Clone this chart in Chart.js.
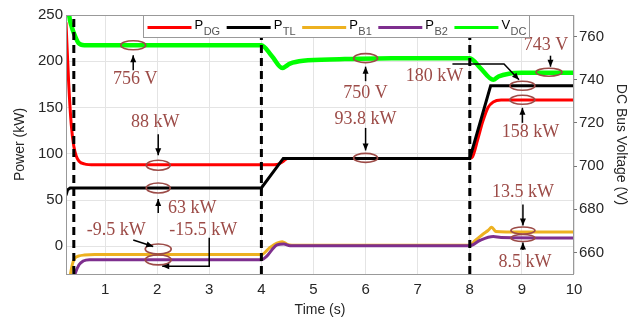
<!DOCTYPE html>
<html>
<head>
<meta charset="utf-8">
<script src="https://cdn.jsdelivr.net/npm/chart.js@4.4.0/dist/chart.umd.min.js"></script>
<style>
  html, body { margin: 0; padding: 0; background: #fff; }
</style>
</head>
<body>
<canvas id="powerChart" width="641" height="320"></canvas>
<script>
// axis ticks
const timeTicks = [1, 2, 3, 4, 5, 6, 7, 8, 9, 10];
const powerTicks = [0, 50, 100, 150, 200, 250];
const voltTicks = [660, 680, 700, 720, 740, 760];
const eventTimes = [0.4, 4, 8]; // load steps (dashed lines)

// P_DG (kW)
const tDG = [0.25, 0.3, 0.35, 0.4, 0.45, 0.5, 0.6, 0.8, 4.0, 4.3, 4.4, 4.5, 8.0, 8.05, 8.15, 8.25, 8.35, 8.45, 8.6, 10];
const pDG = [242, 178, 132, 108, 97, 92, 89, 88, 88, 88.5, 91, 95, 95, 96.5, 115, 135, 150, 156, 158, 158];
// P_TL (kW)
const tTL = [0.25, 0.28, 0.33, 4.0, 4.42, 8.0, 8.4, 10];
const pTL = [55, 61, 63, 63, 95, 95, 173.5, 173.5];
// P_B1 (kW)
const tB1 = [0.25, 0.33, 0.37, 0.42, 0.5, 0.6, 0.8, 4.0, 4.15, 4.3, 4.4, 4.5, 4.7, 8.0, 8.1, 8.25, 8.35, 8.42, 8.5, 8.7, 10];
const pB1 = [-60, -32, -20, -13, -10.5, -9.5, -9, -9, -2, 3.5, 5, 2, 1, 1, 6, 13, 17, 20.5, 16, 15.5, 15.5];
// P_B2 (kW)
const tB2 = [0.25, 0.38, 0.43, 0.5, 0.58, 0.7, 4.0, 4.1, 4.2, 4.3, 4.43, 4.55, 8.0, 8.2, 8.45, 8.6, 10];
const pB2 = [-70, -40, -29, -20, -16, -14.5, -14.5, -11, -4, 1.5, 2.5, 0.5, 0.5, 6.5, 10.5, 9.5, 9];
// V_DC (V)
const tDC = [0.25, 0.31, 0.36, 0.42, 0.49, 0.6, 4.0, 4.2, 4.4, 4.55, 4.8, 5.5, 6.5, 8.0, 8.2, 8.45, 8.55, 8.75, 9.0, 10];
const vDC = [790, 770, 764.5, 760.5, 757, 756, 756, 751, 745.5, 747.5, 748.8, 749.5, 750, 750, 745.5, 740, 741.5, 742.8, 743.2, 743.3];

const legendMain = ['P', 'P', 'P', 'P', 'V'];
const legendSub = ['DG', 'TL', 'B1', 'B2', 'DC'];
const colors = ['#ff0000', '#000000', '#edb120', '#7e2f8e', '#00ff00'];

// callouts: anchor (t, value on axis), ellipse size, label and arrow offsets in px
const notes = [
  { t: 1.54, v: 756, axis: 'y1', rx: 12.5, ry: 4.5, text: '756 V', tx: 2, ty: 34, arrow: [[0, 25], [0, 10]] },
  { t: 2.02, v: 87.5, axis: 'y', rx: 12, ry: 5, text: '88 kW', tx: -3, ty: -43, arrow: [[0, -31], [0, -10]] },
  { t: 2.02, v: 63, axis: 'y', rx: 12, ry: 5, text: '63 kW', tx: 34, ty: 20, arrow: [[0, 25], [0, 11]] },
  { t: 2.02, v: -3, axis: 'y', rx: 13, ry: 5, text: '-9.5 kW', tx: -42, ty: -19, arrow: [[-25, -9], [-5, -2.5]] },
  { t: 2.02, v: -14.7, axis: 'y', rx: 13, ry: 5, text: '-15.5 kW', tx: 45, ty: -30, arrow: [[51, -22], [51, 6.4], [4, 6.4]] },
  { t: 6.0, v: 750, axis: 'y1', rx: 12, ry: 4.5, text: '750 V', tx: 0, ty: 35, arrow: [[0, 23], [0, 8.5]] },
  { t: 6.0, v: 95.5, axis: 'y', rx: 12, ry: 4.5, text: '93.8 kW', tx: 0, ty: -39, arrow: [[0, -30], [0, -7.5]] },
  { t: 9.52, v: 743.5, axis: 'y1', rx: 13, ry: 4, text: '743 V', tx: -3, ty: -27, arrow: [[1.5, -16.5], [1.5, -5.5]] },
  { t: 9.01, v: 173.5, axis: 'y', rx: 12.5, ry: 4.5, text: '180 kW', tx: -88, ty: -9, arrow: [[-70, -21.7], [-18.4, -21.7], [-3.4, -6]] },
  { t: 9.01, v: 158.3, axis: 'y', rx: 12.5, ry: 4.5, text: '158 kW', tx: 8, ty: 32, arrow: [[0, 23], [0, 8]] },
  { t: 9.02, v: 17, axis: 'y', rx: 12, ry: 3.5, text: '13.5 kW', tx: 0, ty: -38, arrow: [[0, -26], [0, -5]] },
  { t: 9.02, v: 9, axis: 'y', rx: 12, ry: 3.5, text: '8.5 kW', tx: 2, ty: 24, arrow: [[0, 12], [0, 4.5]] }
];
const noteColor = '#9c4b47';

const pts = (ts, vs) => ts.map((t, i) => ({ x: t, y: vs[i] }));

Chart.defaults.font.family = '"Liberation Sans", Arial, sans-serif';
Chart.defaults.color = '#262626';

const datasets = [
  { label: 'P_DG', data: pts(tDG, pDG), yAxisID: 'y', borderColor: colors[0], borderWidth: 3, cubicInterpolationMode: 'monotone', order: 3 },
  { label: 'P_TL', data: pts(tTL, pTL), yAxisID: 'y', borderColor: colors[1], borderWidth: 3, tension: 0, order: 2 },
  { label: 'P_B1', data: pts(tB1, pB1), yAxisID: 'y', borderColor: colors[2], borderWidth: 3, cubicInterpolationMode: 'monotone', order: 5 },
  { label: 'P_B2', data: pts(tB2, pB2), yAxisID: 'y', borderColor: colors[3], borderWidth: 3, cubicInterpolationMode: 'monotone', order: 4 },
  { label: 'V_DC', data: pts(tDC, vDC), yAxisID: 'y1', borderColor: colors[4], borderWidth: 4.5, cubicInterpolationMode: 'monotone', order: 6 }
];
eventTimes.forEach(t => {
  datasets.push({ label: 'step', data: [{ x: t, y: -30 }, { x: t, y: 250 }], yAxisID: 'y',
    borderColor: '#000', borderWidth: 3, borderDash: [8, 5], order: 1 });
});

const calloutPlugin = {
  id: 'callouts',
  afterDatasetsDraw(chart) {
    const ctx = chart.ctx;
    const xs = chart.scales.x;
    ctx.save();
    notes.forEach(n => {
      const cx = xs.getPixelForValue(n.t);
      const cy = chart.scales[n.axis].getPixelForValue(n.v);
      ctx.strokeStyle = noteColor;
      ctx.lineWidth = 1.6;
      ctx.beginPath();
      ctx.ellipse(cx, cy, n.rx, n.ry, 0, 0, Math.PI * 2);
      ctx.stroke();

      // arrow, last point is the tip
      const a = n.arrow.map(p => [cx + p[0], cy + p[1]]);
      ctx.strokeStyle = '#000';
      ctx.fillStyle = '#000';
      ctx.lineWidth = 1.5;
      ctx.beginPath();
      ctx.moveTo(a[0][0], a[0][1]);
      for (let i = 1; i < a.length; i++) ctx.lineTo(a[i][0], a[i][1]);
      ctx.stroke();
      const p1 = a[a.length - 2], p2 = a[a.length - 1];
      const ang = Math.atan2(p2[1] - p1[1], p2[0] - p1[0]);
      ctx.beginPath();
      ctx.moveTo(p2[0], p2[1]);
      ctx.lineTo(p2[0] - 7 * Math.cos(ang) + 3 * Math.sin(ang), p2[1] - 7 * Math.sin(ang) - 3 * Math.cos(ang));
      ctx.lineTo(p2[0] - 7 * Math.cos(ang) - 3 * Math.sin(ang), p2[1] - 7 * Math.sin(ang) + 3 * Math.cos(ang));
      ctx.closePath();
      ctx.fill();

      ctx.fillStyle = noteColor;
      ctx.font = '18px "Liberation Serif", "Times New Roman", serif';
      ctx.textAlign = 'center';
      ctx.textBaseline = 'middle';
      ctx.fillText(n.text, cx + n.tx, cy + n.ty);
    });
    ctx.restore();
  },
  afterDraw(chart) {
    const ctx = chart.ctx;
    const a = chart.chartArea;
    ctx.save();
    // plot frame
    ctx.strokeStyle = '#999';
    ctx.lineWidth = 1;
    ctx.strokeRect(Math.round(a.left) + 0.5, Math.round(a.top) + 0.5, Math.round(a.right - a.left) - 1, Math.round(a.bottom - a.top));

    // legend with subscripts
    const bx = 143, by = a.top, bh = 22;
    let x = bx + 4.5;
    const items = [];
    legendMain.forEach((m, i) => {
      ctx.font = '13px "Liberation Sans", Arial, sans-serif';
      const wm = ctx.measureText(m).width;
      ctx.font = '11px "Liberation Sans", Arial, sans-serif';
      const ws = ctx.measureText(legendSub[i]).width;
      items.push({ x, wm, ws });
      x += 47 + wm + ws + 7;
    });
    const bw = x - 7 + 3 - bx;
    ctx.fillStyle = '#fff';
    ctx.fillRect(bx + 0.5, by + 0.5, bw, bh);
    ctx.strokeStyle = '#999';
    ctx.strokeRect(bx + 0.5, by + 0.5, bw, bh);
    items.forEach((it, i) => {
      ctx.strokeStyle = colors[i];
      ctx.lineWidth = 3;
      ctx.beginPath();
      ctx.moveTo(it.x, by + 12.5);
      ctx.lineTo(it.x + 44, by + 12.5);
      ctx.stroke();
      ctx.fillStyle = '#000';
      ctx.textAlign = 'left';
      ctx.textBaseline = 'alphabetic';
      ctx.font = '13px "Liberation Sans", Arial, sans-serif';
      ctx.fillText(legendMain[i], it.x + 47, by + 14);
      ctx.fillStyle = '#555';
      ctx.font = '11px "Liberation Sans", Arial, sans-serif';
      ctx.fillText(legendSub[i], it.x + 47 + it.wm + 0.5, by + 19.5);
    });
    ctx.restore();
  }
};

const tickFont = { size: 15 };
const titleFont = { size: 14 };

new Chart(document.getElementById('powerChart').getContext('2d'), {
  type: 'line',
  data: { datasets },
  plugins: [calloutPlugin],
  options: {
    responsive: false,
    animation: false,
    devicePixelRatio: 1,
    layout: { padding: { top: 15, left: 0, right: 0, bottom: 0 } },
    elements: { point: { radius: 0 } },
    plugins: { legend: { display: false }, tooltip: { enabled: false } },
    scales: {
      x: {
        type: 'linear',
        min: 0.25,
        max: 10,
        afterBuildTicks: s => { s.ticks = timeTicks.map(v => ({ value: v })); },
        afterFit: s => { s.height = 46; },
        ticks: { font: tickFont, maxRotation: 0, autoSkip: false, padding: 7 },
        grid: { color: '#e4e4e4', drawTicks: false },
        border: { display: false },
        title: { display: true, text: 'Time (s)', font: titleFont, padding: { top: 0, bottom: 1 } }
      },
      y: {
        position: 'left',
        min: -30,
        max: 250,
        afterBuildTicks: s => { s.ticks = powerTicks.map(v => ({ value: v })); },
        afterFit: s => { s.width = 66; },
        ticks: { font: tickFont, padding: 3 },
        grid: { color: '#e4e4e4', drawTicks: false },
        border: { display: false },
        title: { display: true, text: 'Power (kW)', font: titleFont, padding: { top: 12, bottom: 0 } }
      },
      y1: {
        position: 'right',
        min: 650,
        max: 770,
        afterBuildTicks: s => { s.ticks = voltTicks.map(v => ({ value: v })); },
        afterFit: s => { s.width = 67; },
        ticks: { font: tickFont, padding: 2 },
        grid: { drawOnChartArea: false, color: '#777', tickLength: 3 },
        border: { display: false },
        title: { display: true, text: 'DC Bus Voltage (V)', font: titleFont, padding: { top: 12, bottom: 0 } }
      }
    }
  }
});
</script>
</body>
</html>
